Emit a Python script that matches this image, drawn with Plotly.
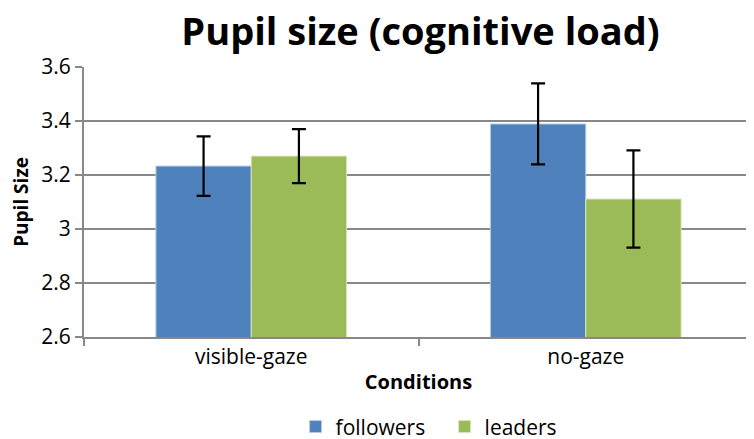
import plotly.graph_objects as go

categories = ["visible-gaze", "no-gaze"]
followers = [3.233, 3.389]
leaders = [3.270, 3.111]
followers_err = [0.11, 0.15]
leaders_err = [0.10, 0.18]
y_ticks = [2.6, 2.8, 3.0, 3.2, 3.4, 3.6]
y_tick_text = ["2.6", "2.8", "3", "3.2", "3.4", "3.6"]

FONT = "Open Sans, Noto Sans, sans-serif"

fig = go.Figure()
fig.add_trace(go.Bar(
    name="followers", x=categories, y=followers,
    marker=dict(color="#4F81BD", line=dict(color="#B8CCE4", width=1)),
    error_y=dict(type="data", array=followers_err, visible=True,
                 color="black", thickness=2.2, width=7),
))
fig.add_trace(go.Bar(
    name="leaders", x=categories, y=leaders,
    marker=dict(color="#9BBB59", line=dict(color="#D7E4BD", width=1)),
    error_y=dict(type="data", array=leaders_err, visible=True,
                 color="black", thickness=2.2, width=7),
))

# page body has an 8px margin, so the figure is sized to fit the window
fig.update_layout(
    width=746, height=431,
    margin=dict(l=76, r=1, t=59, b=102, autoexpand=False),
    paper_bgcolor="white", plot_bgcolor="white",
    barmode="group", bargap=0.43, bargroupgap=0,
    font=dict(family=FONT, color="black"),
    title=dict(text="<b>Pupil size (cognitive load)</b>", x=0.503, xref="paper",
               xanchor="center", y=0.945, yanchor="middle",
               font=dict(size=38, family=FONT, color="black")),
    showlegend=True,
    legend=dict(orientation="h", x=0.539, xanchor="center", xref="paper",
                y=-0.333, yanchor="middle", font=dict(size=21),
                itemwidth=30, entrywidth=104, entrywidthmode="pixels",
                traceorder="normal"),
    xaxis=dict(
        type="category", showgrid=False, showline=True, linecolor="#888888",
        linewidth=2, ticks="outside", tickson="boundaries", ticklen=7,
        tickcolor="#888888", tickwidth=1.5, automargin=False,
        tickfont=dict(size=21), title=dict(text="<b>Conditions</b>",
                                           font=dict(size=20), standoff=6),
    ),
    yaxis=dict(
        range=[2.6, 3.6], tickvals=y_ticks, ticktext=y_tick_text,
        showgrid=True, gridcolor="#888888", gridwidth=1.5,
        showline=True, linecolor="#888888", linewidth=2,
        ticks="outside", ticklen=7, tickcolor="#888888", tickwidth=1.5,
        tickfont=dict(size=21), zeroline=False, automargin=False,
        title=dict(text="<b>Pupil Size</b>", font=dict(size=19), standoff=12),
    ),
)

fig.write_html("out.html")
